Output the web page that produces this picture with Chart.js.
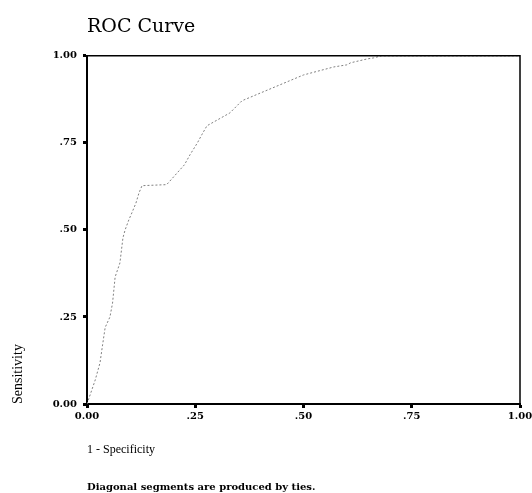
<!DOCTYPE html>
<html>
<head>
<meta charset="utf-8">
<script src="https://cdn.jsdelivr.net/npm/chart.js@4"></script>
<style>
  body { margin: 0; background: #fff; }
</style>
</head>
<body>
<canvas id="roc" width="532" height="493"></canvas>
<script>
// ROC curve points
const fpr = [0, 0.019, 0.03, 0.036, 0.042, 0.053, 0.059, 0.065, 0.076, 0.083, 0.088, 0.097, 0.104, 0.113, 0.12, 0.127, 0.184, 0.225, 0.238, 0.245, 0.255, 0.265, 0.277, 0.33, 0.358, 0.5, 0.57, 0.6, 0.609, 0.647, 0.662, 0.68, 1];
const tpr = [0, 0.069, 0.118, 0.17, 0.22, 0.25, 0.29, 0.365, 0.405, 0.477, 0.5, 0.53, 0.55, 0.577, 0.606, 0.627, 0.63, 0.687, 0.716, 0.73, 0.75, 0.773, 0.799, 0.836, 0.871, 0.945, 0.968, 0.974, 0.98, 0.991, 0.994, 1, 1];
const tickValues = [0, 0.25, 0.5, 0.75, 1];
const tickLabels = ['0.00', '.25', '.50', '.75', '1.00'];

const serif = "'Liberation Serif', 'DejaVu Serif', serif";
const wideSerif = "'DejaVu Serif', serif";

function fmt(v) {
    const i = tickValues.findIndex(t => Math.abs(t - v) < 1e-6);
    return i >= 0 ? tickLabels[i] : '';
}

// top and right frame lines
const frame = {
    id: 'frame',
    afterDraw(chart) {
        const {ctx, chartArea: a} = chart;
        ctx.save();
        ctx.strokeStyle = '#000';
        ctx.lineWidth = 1.5;
        ctx.beginPath();
        ctx.moveTo(a.left, a.top);
        ctx.lineTo(a.right, a.top);
        ctx.lineTo(a.right, a.bottom);
        ctx.stroke();
        ctx.restore();
    }
};

new Chart(document.getElementById('roc'), {
    type: 'scatter',
    data: {
        datasets: [{
            label: 'ROC',
            data: fpr.map((x, i) => ({x: x, y: tpr[i]})),
            showLine: true,
            borderColor: '#808080',
            borderWidth: 1,
            borderDash: [2, 2],
            pointRadius: 0,
            tension: 0
        }]
    },
    options: {
        responsive: false,
        animation: false,
        layout: {padding: {left: 0, right: 12, top: 0, bottom: 0}},
        plugins: {
            legend: {display: false},
            tooltip: {enabled: false},
            title: {
                display: true,
                text: 'ROC Curve',
                align: 'start',
                fullSize: false,
                color: '#000',
                font: {family: wideSerif, size: 19, weight: 'normal'},
                padding: {top: 16, bottom: 17}
            },
            subtitle: {
                display: true,
                position: 'bottom',
                text: 'Diagonal segments are produced by ties.',
                align: 'start',
                fullSize: false,
                color: '#000',
                font: {family: wideSerif, size: 10, weight: 'bold'},
                padding: {top: 0, bottom: 0}
            }
        },
        scales: {
            x: {
                type: 'linear',
                min: 0,
                max: 1,
                afterFit: s => { s.height = 77; s.paddingLeft = 0; s.paddingRight = 0; },
                afterBuildTicks: s => { s.ticks = tickValues.map(v => ({value: v})); },
                ticks: {
                    callback: fmt,
                    color: '#000',
                    font: {family: wideSerif, size: 10, weight: 'bold'},
                    padding: 2,
                    maxRotation: 0
                },
                grid: {drawOnChartArea: false, color: '#000', tickLength: 4, tickWidth: 3},
                border: {color: '#000', width: 2},
                title: {
                    display: true,
                    text: '1 - Specificity',
                    align: 'start',
                    color: '#000',
                    font: {family: serif, size: 12},
                    padding: {top: 4, bottom: 24}
                }
            },
            y: {
                type: 'linear',
                min: 0,
                max: 1,
                afterFit: s => { s.width = 87; },
                afterBuildTicks: s => { s.ticks = tickValues.map(v => ({value: v})); },
                ticks: {
                    callback: fmt,
                    color: '#000',
                    font: {family: wideSerif, size: 10, weight: 'bold'},
                    padding: 6
                },
                grid: {drawOnChartArea: false, color: '#000', tickLength: 4, tickWidth: 3},
                border: {color: '#000', width: 2},
                title: {
                    display: true,
                    text: 'Sensitivity',
                    align: 'start',
                    color: '#000',
                    font: {family: serif, size: 14},
                    padding: {top: 10, bottom: 0}
                }
            }
        }
    },
    plugins: [frame]
});
</script>
</body>
</html>
